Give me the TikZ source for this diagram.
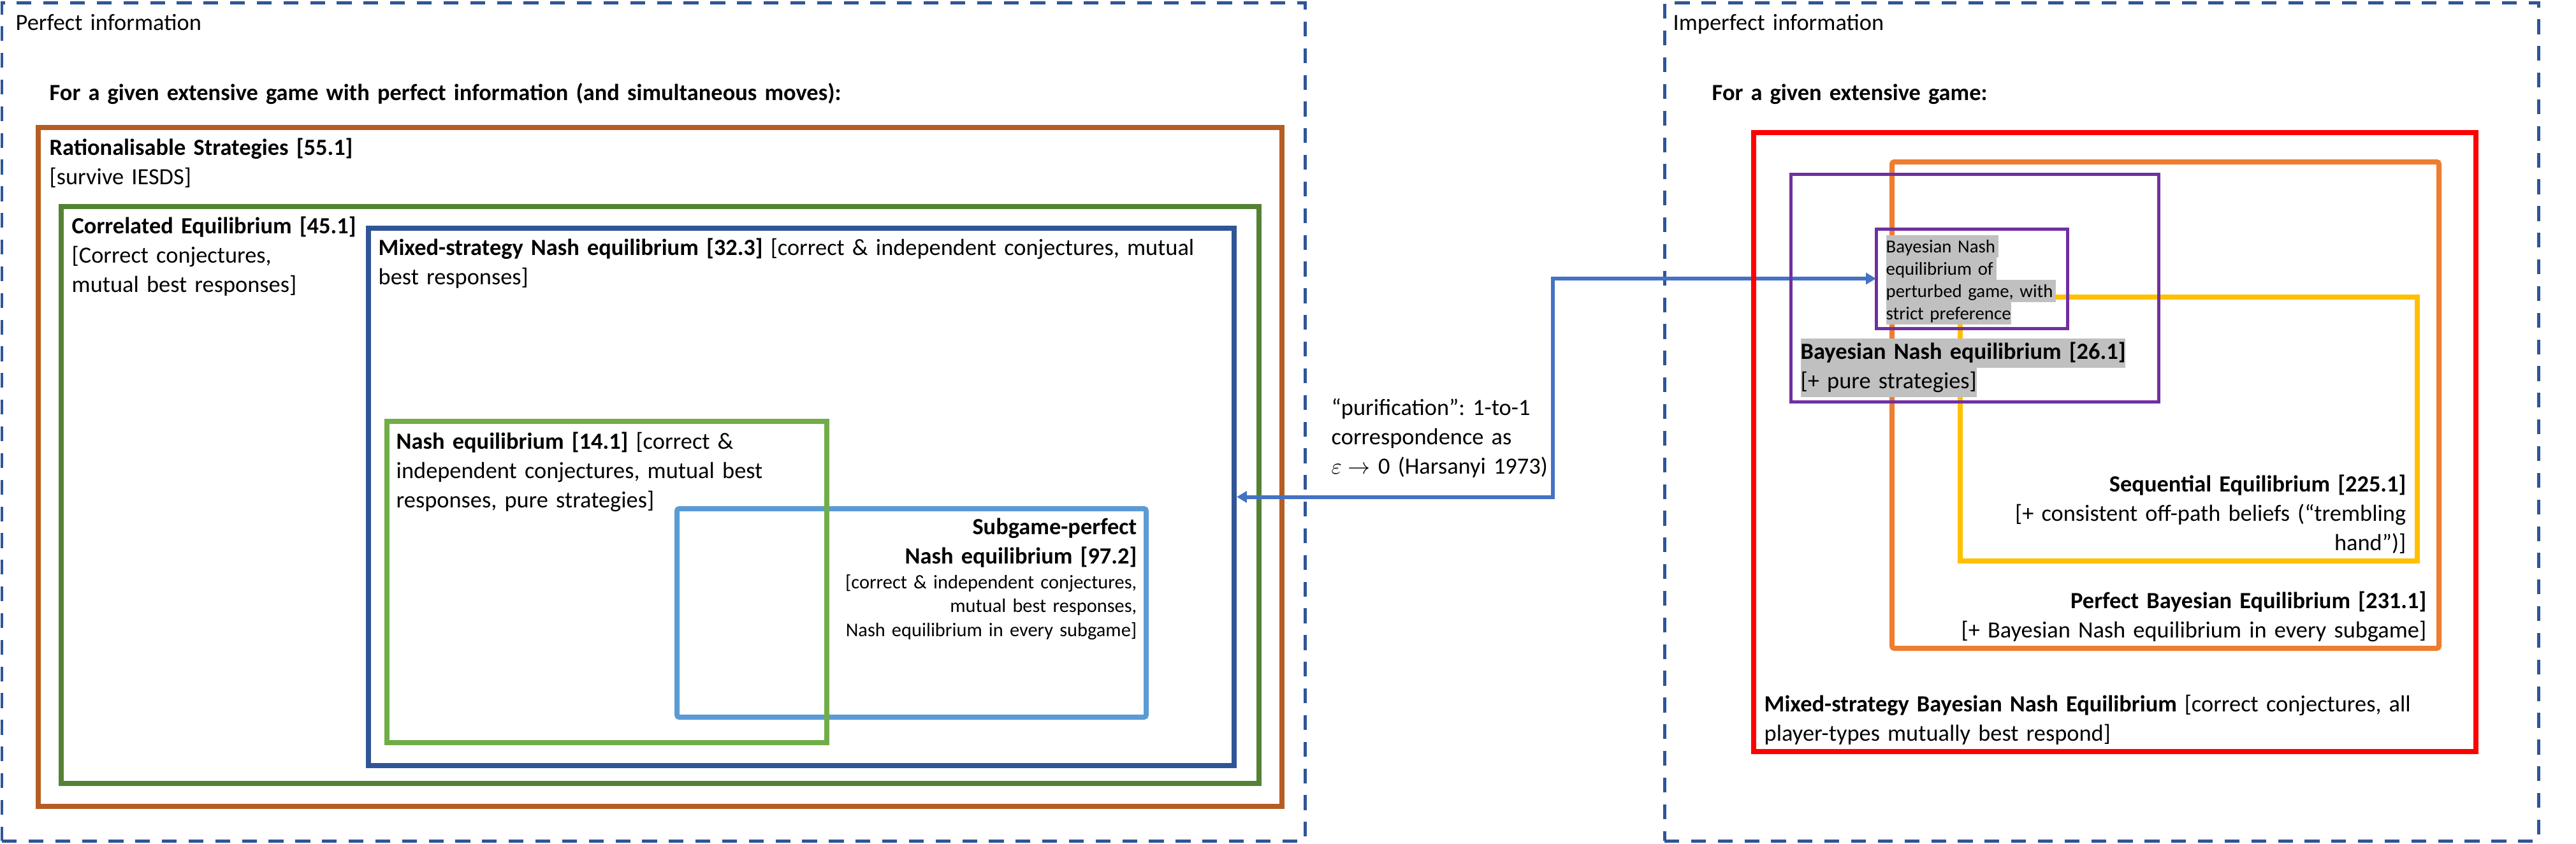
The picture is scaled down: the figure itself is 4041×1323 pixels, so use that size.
\documentclass[tikz,border=0pt]{standalone}
\usepackage{fontspec}
\setmainfont{Carlito}
\usetikzlibrary{arrows.meta,fit}
\definecolor{framecol}{HTML}{2F5597}
\definecolor{rscol}{HTML}{B55D23}
\definecolor{cecol}{HTML}{548235}
\definecolor{msnecol}{HTML}{2F5597}
\definecolor{necol}{HTML}{70AD47}
\definecolor{spnecol}{HTML}{5B9BD5}
\definecolor{msbnecol}{HTML}{FF0000}
\definecolor{pbecol}{HTML}{ED7D31}
\definecolor{bnecol}{HTML}{7030A0}
\definecolor{secol}{HTML}{FFC000}
\definecolor{linkcol}{HTML}{4472C4}
\definecolor{hlgray}{HTML}{C0C0C0}
\frenchspacing
\newcommand\mainsize{\fontsize{10.35pt}{13.09pt}\selectfont}
\newcommand\notesize{\fontsize{8.65pt}{10.67pt}\selectfont}
\newcommand\tinysize{\fontsize{8.2pt}{9.96pt}\selectfont}
\newcommand\hlsmall[1]{{\setlength\fboxsep{0pt}\colorbox{hlgray}{\rule[-2.3pt]{0pt}{9.96pt}#1}}}
\newcommand\hlmain[1]{{\setlength\fboxsep{0pt}\colorbox{hlgray}{\rule[-4pt]{0pt}{13.09pt}#1}}}
\tikzset{
  infoframe/.style={draw=framecol, line width=1.42pt, dash pattern=on 6.6pt off 5.3pt, inner sep=0pt},
  eqbox/.style={draw=#1, line width=2.28pt, inner sep=0pt},
  txt/.style={inner sep=0pt, text width=#1, align=left, anchor=base west},
  rtxt/.style={inner sep=0pt, text width=#1, align=right, anchor=base east}
}
\begin{document}
\begin{tikzpicture}[x=0.01cm, y=-0.01cm, >={Triangle[length=4.5pt,width=5pt]}, font=\mainsize]
	\useasboundingbox (0,0) rectangle (4041,1323);
	% two frames
	\node[infoframe, fit={(3,4) (2047,1319)}] (pframe) {};
	\node[infoframe, fit={(2611,4) (3982,1319)}] (iframe) {};
	\node[txt=6cm] (pinfo) at (24,47) {Perfect information};
	\node[txt=6cm] (iinfo) at (2624,47) {Imperfect information};
	\node[txt=18cm, font=\mainsize\bfseries] (phead) at (77,157) {For a given extensive game with perfect information (and simultaneous moves):};
	\node[txt=8cm, font=\mainsize\bfseries] (ihead) at (2685,157) {For a given extensive game:};
	% perfect information
	\node[eqbox=rscol, fit={(60,200) (2011,1265)}] (rsbox) {};
	\node[eqbox=cecol, fit={(96,324) (1975,1229)}] (cebox) {};
	\node[eqbox=msnecol, fit={(578,358) (1936,1201)}] (msnebox) {};
	\node[eqbox=spnecol, rounded corners=1pt, fit={(1062,798) (1798,1125)}] (spnebox) {};
	\node[eqbox=necol, fit={(607,661) (1297,1165)}] (nebox) {};
	% purification
	\coordinate (turn) at (2436,600);
	\draw[<->, draw=linkcol, line width=1.71pt] (msnebox.east) -| (turn) |- (2943,437);
	% imperfect information
	\node[eqbox=msbnecol, fit={(2751,208) (3884,1179)}] (msbnebox) {};
	\node[eqbox=pbecol, rounded corners=1pt, fit={(2968,254) (3826,1017)}] (pbebox) {};
	\node[eqbox=secol, fit={(3075,466) (3792,880)}] (sebox) {};
	\node[eqbox=bnecol, line width=1.42pt, fit={(2809,273) (3386,630)}] (bnebox) {};
	\node[eqbox=bnecol, line width=1.42pt, fit={(2943,359) (3243,515)}] (perturbbox) {};
	% labels
	\node[txt=12cm] (rslabel) at (77,243) {\textbf{Rationalisable Strategies [55.1]}\\{}[survive IESDS]};
	\node[txt=6cm] (celabel) at (112,366) {\textbf{Correlated Equilibrium [45.1]}\\{}[Correct conjectures,\\mutual best responses]};
	\node[txt=13cm] (msnelabel) at (593,400) {\textbf{Mixed-strategy Nash equilibrium [32.3]} [correct \& independent conjectures, mutual\\best responses]};
	\node[txt=6.5cm] (nelabel) at (621,704) {\textbf{Nash equilibrium [14.1]} [correct \&\\independent conjectures, mutual best\\responses, pure strategies]};
	\node[rtxt=6cm, font=\mainsize\bfseries] (spnelabel) at (1784,838) {Subgame-perfect\\Nash equilibrium [97.2]};
	\node[rtxt=6cm, font=\notesize] (spnenote) at (1784,923) {[correct \& independent conjectures,\\mutual best responses,\\Nash equilibrium in every subgame]};
	\node[txt=4cm] (purilabel) at (2088,651) {“purification”: 1-to-1\\correspondence as\\$\varepsilon\rightarrow$ 0 (Harsanyi 1973)};
	\node[txt=3cm, font=\tinysize] (perturblabel) at (2958,396) {\hlsmall{Bayesian Nash\,}\\\hlsmall{equilibrium of\,}\\\hlsmall{perturbed game, with\,}\\\hlsmall{strict preference}};
	\node[txt=6cm] (bnelabel) at (2824,563) {\hlmain{\textbf{Bayesian Nash equilibrium [26.1]}}\\\hlmain{[+ pure strategies]}};
	\node[rtxt=8cm] (selabel) at (3775,771) {\textbf{Sequential Equilibrium [225.1]}\\{}[+ consistent off-path beliefs (“trembling\\hand”)]};
	\node[rtxt=9cm] (pbelabel) at (3807,954) {\textbf{Perfect Bayesian Equilibrium [231.1]}\\{}[+ Bayesian Nash equilibrium in every subgame]};
	\node[txt=11cm] (msbnelabel) at (2767,1116) {\textbf{Mixed-strategy Bayesian Nash Equilibrium} [correct conjectures, all\\player-types mutually best respond]};
\end{tikzpicture}
\end{document}
